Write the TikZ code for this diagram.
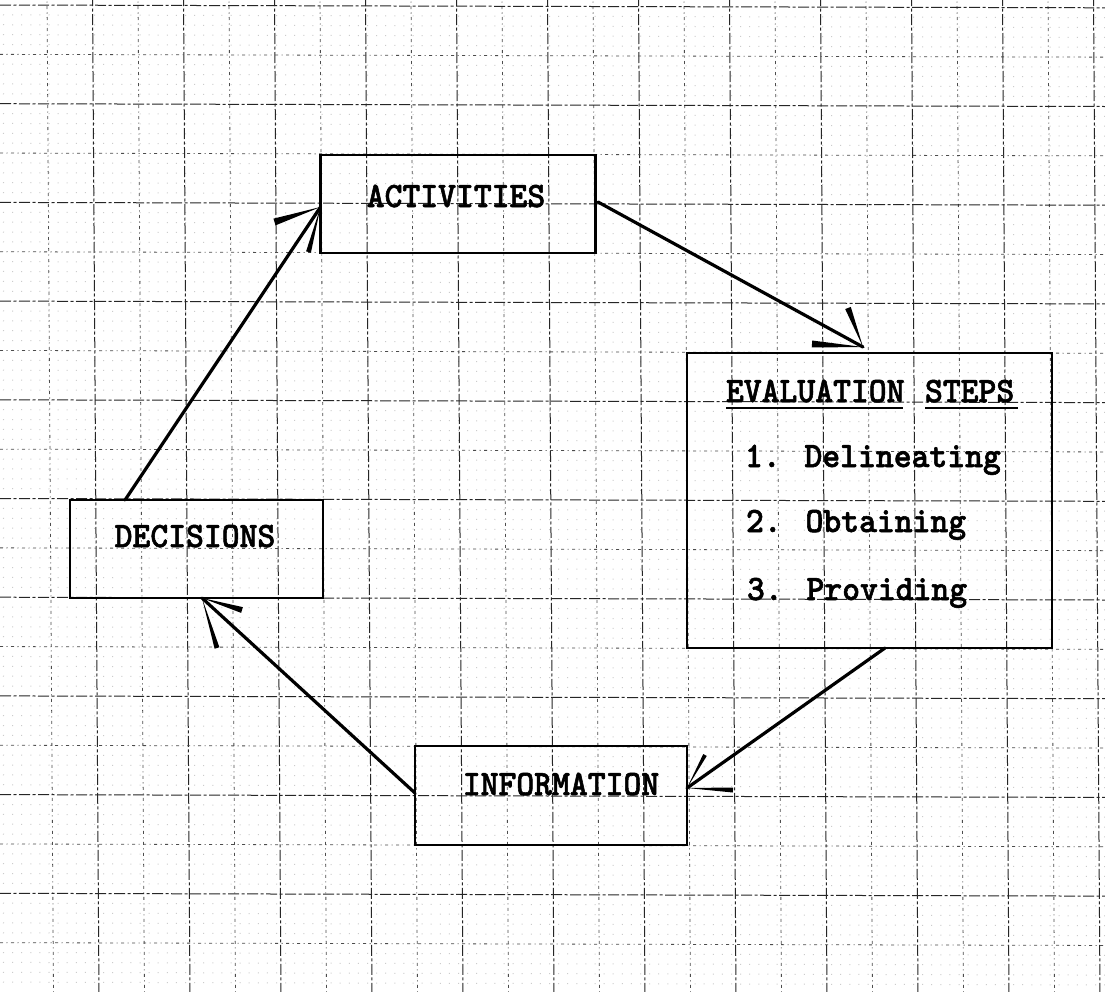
\documentclass[tikz,border=0pt]{standalone}
\usepackage{fontspec}
\usepackage{graphicx}
\usetikzlibrary{calc}
\newfontfamily\tw{lmmonolt10-bold.otf}[FakeBold=1.6]
\newcommand{\twtext}[1]{\scalebox{1}[1.05]{\tw #1}}
\begin{document}
\begin{tikzpicture}[x=1pt,y=-1pt,
  heavyline/.style={line width=1.0pt,black!85,dash pattern=on 11pt off 2.5pt on 3pt off 2.5pt},
  lightline/.style={line width=0.8pt,black!70,dash pattern=on 3pt off 3.5pt on 1pt off 3.5pt},
  minordots/.style={line width=1pt,black!20,dash pattern=on 1pt off 8.1pt},
  boxstyle/.style={draw,line width=2.8pt,inner sep=0pt,outer sep=0pt,rectangle},
  label/.style={inner sep=0pt,outer sep=0pt,font=\fontsize{34}{36}\selectfont},
  shaft/.style={line width=3.2pt,line cap=round},
  barb/.style={line width=1pt,line join=round,fill=black}
]
\useasboundingbox (0,0) rectangle (1105,991);
\fill[white] (0,0) rectangle (1105,991);
% minor dots
\foreach \k in {-1,...,19}{
  \foreach \j in {1,2,3,4}{
    \pgfmathsetmacro{\yy}{5+49.35*\k+9.87*\j}
    \draw[minordots] (3,\yy) -- (1105,{\yy+2.8});
  }
}
% major grid: vertical
\foreach \k in {1,3,...,23}{
  \draw[heavyline] ({47+45.5*\k},-5) -- ({47+45.5*\k+6.5},996);
}
\foreach \k in {0,2,...,22}{
  \draw[lightline] ({47+45.5*\k},-5) -- ({47+45.5*\k+6.5},996);
}
% major grid: horizontal
\foreach \k in {0,2,...,18}{
  \draw[heavyline] (0,{5+49.35*\k}) -- (1105,{5+49.35*\k+2.8});
}
\foreach \k in {1,3,...,19}{
  \draw[lightline] (0,{5+49.35*\k}) -- (1105,{5+49.35*\k+2.8});
}
% boxes
\node[boxstyle,minimum width=275pt,minimum height=98pt] (act) at (458,204) {};
\node[boxstyle,minimum width=253pt,minimum height=98pt] (dec) at (196.5,549) {};
\node[boxstyle,minimum width=365pt,minimum height=295pt] (eval) at (869.5,500.5) {};
\node[boxstyle,minimum width=272pt,minimum height=99pt] (info) at (551,795.5) {};
% texts
\node[label,anchor=base] (actt) at (456,207) {\twtext{ACTIVITIES}};
\node[label,anchor=base] (dect) at (195,547) {\twtext{DECISIONS}};
\node[label,anchor=base] (infot) at (561,795) {\twtext{INFORMATION}};
\node[label,anchor=base west] (evw) at (726,402) {\twtext{EVALUATION}};
\node[label,anchor=base west] (stw) at (925,402) {\twtext{STEPS}};
\draw[line width=2pt] ([yshift=-6pt]evw.base west) -- ([yshift=-6pt,xshift=-2pt]evw.base east);
\draw[line width=2pt] ([yshift=-6pt]stw.base west) -- ([yshift=-6pt,xshift=4pt]stw.base east);
\node[label,anchor=base west] (s1) at (745,467) {\twtext{1. Delineating}};
\node[label,anchor=base west] (s2) at (746,532) {\twtext{2. Obtaining}};
\node[label,anchor=base west] (s3) at (747,600) {\twtext{3. Providing}};
% connector coordinates
\coordinate (a1s) at ($(dec.north west)+(55,0)$);
\coordinate (a1t) at ($(act.west)+(0,3)$);
\coordinate (a2s) at ($(act.east)+(2.5,-2)$);
\coordinate (a2t) at ($(eval.north west)+(176,-6)$);
\coordinate (a3s) at ($(eval.south west)+(198,0)$);
\coordinate (a3t) at ($(info.east)+(0,-7.5)$);
\coordinate (a4s) at ($(info.west)+(0,-2.5)$);
\coordinate (a4t) at ($(dec.south west)+(132,0)$);
% shafts
\draw[shaft] (a1s) -- (a1t);
\draw[shaft] (a2s) -- (a2t);
\draw[shaft] (a3s) -- (a3t);
\draw[shaft] (a4s) -- (a4t);
% barbs
\newcommand{\barbto}[3]{%
  \fill[barb] (#1) -- ($(#2)!#3!90:(#1)$) -- ($(#2)!#3!-90:(#1)$) -- cycle;}
\coordinate (b1a) at ($(a1t)+(-46,15)$);
\coordinate (b1b) at ($(a1t)+(-12,45)$);
\coordinate (b2a) at ($(a2t)+(-51,-3)$);
\coordinate (b2b) at ($(a2t)+(-15,-39)$);
\coordinate (b3a) at ($(a3t)+(18,-33)$);
\coordinate (b3b) at ($(a3t)+(46,2)$);
\coordinate (b4a) at ($(a4t)+(40,12)$);
\coordinate (b4b) at ($(a4t)+(15,50)$);
\barbto{a1t}{b1a}{3.5pt}
\barbto{a1t}{b1b}{2.5pt}
\barbto{a2t}{b2a}{3.5pt}
\barbto{a2t}{b2b}{3pt}
\barbto{a3t}{b3a}{2pt}
\barbto{a3t}{b3b}{2.5pt}
\barbto{a4t}{b4a}{3pt}
\barbto{a4t}{b4b}{2.5pt}
\end{tikzpicture}
\end{document}
